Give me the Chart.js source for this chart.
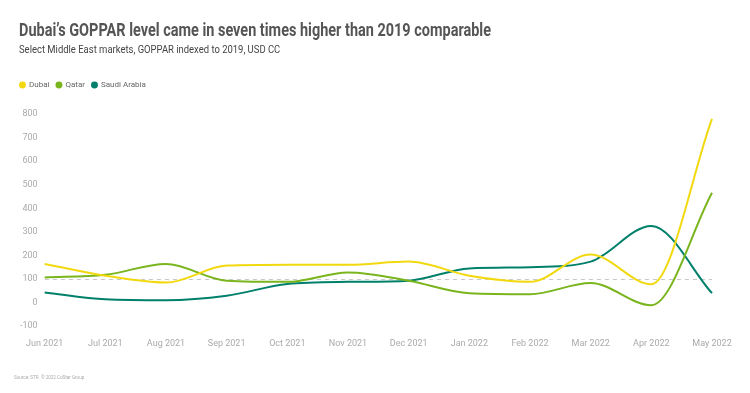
<!DOCTYPE html>
<html>
<head>
<meta charset="utf-8">
<script src="https://cdn.jsdelivr.net/npm/chart.js@4.4.0/dist/chart.umd.min.js"></script>
<style>
  html, body { margin: 0; padding: 0; background: #fff; }
  #wrap { position: relative; width: 750px; height: 393px; overflow: hidden; }
  #chart { position: absolute; left: 0; top: 0; }
  .title { position: absolute; left: 19px; top: 20px; font-family: Roboto, sans-serif; font-weight: 700;
    font-size: 17.5px; color: #555; white-space: nowrap; transform-origin: left top; transform: scaleX(0.827); }
  .sub { position: absolute; left: 19px; top: 43px; font-family: Roboto, sans-serif; font-size: 11px;
    color: #444; white-space: nowrap; transform-origin: left top; transform: scaleX(0.86); }
  .src { position: absolute; left: 14px; top: 373px; font-family: Roboto, sans-serif; font-size: 6px;
    color: #aaa; white-space: nowrap; transform-origin: left top; transform: scaleX(0.76); }
</style>
</head>
<body>
<div id="wrap">
  <canvas id="chart" width="750" height="393"></canvas>
  <div class="title">Dubai’s GOPPAR level came in seven times higher than 2019 comparable</div>
  <div class="sub">Select Middle East markets, GOPPAR indexed to 2019, USD CC</div>
  <div class="src">Source: STR. © 2022 CoStar Group</div>
</div>
<script>
// months on the x axis
const months = ['Jun 2021', 'Jul 2021', 'Aug 2021', 'Sep 2021', 'Oct 2021', 'Nov 2021',
  'Dec 2021', 'Jan 2022', 'Feb 2022', 'Mar 2022', 'Apr 2022', 'May 2022'];
// GOPPAR indexed to 2019 (=100)
const dubai = [164, 114, 85, 157, 161, 161, 174, 114, 88, 204, 78, 779];
const qatar = [107, 118, 164, 93, 88, 128, 93, 40, 36, 83, -11, 466];
const saudi = [43, 14, 10, 29, 79, 88, 93, 145, 150, 174, 325, 40];
const yTicks = [-100, 0, 100, 200, 300, 400, 500, 600, 700, 800];

const ctx = document.getElementById('chart');

function line(label, data, color) {
  return {
    label: label,
    data: data,
    borderColor: color,
    backgroundColor: color,
    borderWidth: 2,
    pointRadius: 0,
    cubicInterpolationMode: 'monotone',
    fill: false
  };
}

// push the plot area down below the legend
const legendGap = {
  id: 'legendGap',
  beforeInit(chart) {
    const fit = chart.legend.fit;
    chart.legend.fit = function () {
      fit.bind(chart.legend)();
      this.height += 15;
    };
  }
};

let chartObj = new Chart(ctx, {
  type: 'line',
  data: {
    labels: months,
    datasets: [
      line('Dubai', dubai, '#f2d90f'),
      line('Qatar', qatar, '#7ab51d'),
      line('Saudi Arabia', saudi, '#00806b')
    ]
  },
  plugins: [legendGap],
  options: {
    responsive: false,
    animation: false,
    layout: { padding: { top: 74, left: 13, right: 38, bottom: 40 } },
    plugins: {
      legend: {
        position: 'top',
        align: 'start',
        labels: {
          usePointStyle: true,
          pointStyle: 'circle',
          boxWidth: 5,
          boxHeight: 3.5,
          padding: 7,
          color: '#666',
          font: { family: 'Roboto', size: 8 }
        }
      },
      tooltip: { enabled: false }
    },
    scales: {
      x: {
        offset: false,
        grid: { display: false },
        border: { display: false },
        ticks: {
          color: '#aaa',
          maxRotation: 0,
          autoSkip: false,
          padding: 4,
          font: { family: 'Roboto', size: 9 }
        }
      },
      y: {
        min: -100,
        max: 800,
        afterBuildTicks: (axis) => { axis.ticks = yTicks.map(v => ({ value: v })); },
        grid: {
          drawTicks: false,
          lineWidth: 1,
          color: (c) => (c.tick && c.tick.value === 100) ? '#c8c8c8' : 'rgba(0,0,0,0)'
        },
        border: { display: false, dash: [4, 4] },
        ticks: {
          color: '#aaa',
          padding: 7,
          font: { family: 'Roboto', size: 9 }
        }
      }
    }
  }
});
</script>
</body>
</html>
